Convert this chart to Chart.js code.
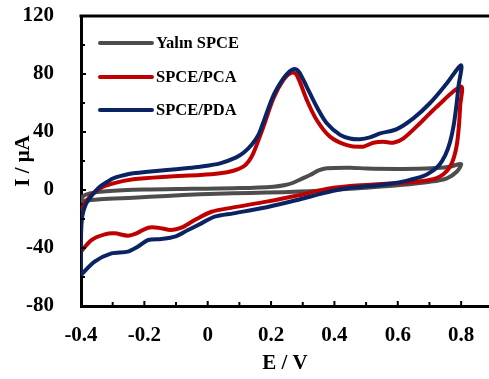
<!DOCTYPE html>
<html>
<head>
<meta charset="utf-8">
<script src="https://cdn.jsdelivr.net/npm/chart.js@4.4.1/dist/chart.umd.min.js"></script>
<style>
  html, body { margin: 0; padding: 0; background: #fff; }
  #wrap { width: 489px; height: 379px; }
</style>
</head>
<body>
<div id="wrap"><canvas id="c" width="489" height="379"></canvas></div>
<script>
// ---- Data (E in V, I in µA), each series is one closed CV loop ----
const seriesLabels = ["Yalın SPCE", "SPCE/PCA", "SPCE/PDA"];
const seriesColors = ["#4d4d4d", "#c00000", "#0a2463"];

const bareE = [-0.4, -0.395, -0.372, -0.32, -0.2, -0.05, 0.1, 0.207, 0.245, 0.27, 0.3, 0.323, 0.35, 0.376, 0.449, 0.502, 0.6, 0.66, 0.72, 0.765, 0.8,
               0.786, 0.755, 0.702, 0.607, 0.502, 0.397, 0.291, 0.186, 0.081, -0.024, -0.13, -0.235, -0.34, -0.4];
const bareI = [-7.6, -4.5, -2.3, -0.8, 0.3, 0.8, 1.3, 2.3, 3.5, 5, 8, 10.3, 13.5, 15, 15.4, 14.8, 14.5, 14.6, 15.2, 16.1, 17.9,
               12.6, 8.1, 5.7, 3.4, 1.6, 0, -1.1, -1.8, -2.3, -3, -4.1, -5.3, -6.4, -7.6];

const pcaE = [-0.4, -0.4, -0.393, -0.372, -0.34, -0.298, -0.235, -0.129, -0.024, 0.039, 0.081, 0.1125, 0.13, 0.144, 0.176, 0.207, 0.239, 0.265, 0.281, 0.313, 0.344, 0.386, 0.439, 0.491, 0.523, 0.555, 0.586, 0.618, 0.67, 0.723, 0.8,
              0.797, 0.793, 0.787, 0.778, 0.765, 0.745, 0.72, 0.68, 0.63, 0.576, 0.523, 0.45, 0.397, 0.344, 0.292, 0.186, 0.081, 0.012, -0.041, -0.083, -0.115, -0.157, -0.188, -0.225, -0.252, -0.294, -0.325, -0.367, -0.4];
const pcaI = [-42.5, -20, -11.5, -4.6, 1.1, 4.6, 7.4, 9.2, 10.3, 11.5, 13.3, 16.1, 20, 25.3, 43.7, 63, 75.9, 81, 79.3, 62, 48.3, 36.8, 31, 29.9, 32.6, 33.3, 32.6, 35.6, 46, 57.4, 71.3,
              58, 44, 32, 23, 16, 11, 8, 6.2, 5.2, 4.5, 3.8, 2.8, 1.5, -0.8, -3.4, -8, -12, -15, -20.7, -26, -27.6, -26, -26, -29.9, -31.5, -29.9, -30.6, -34.5, -42.5];

const pdaE = [-0.4, -0.4, -0.396, -0.385, -0.372, -0.355, -0.34, -0.318, -0.298, -0.265, -0.235, -0.18, -0.129, -0.07, -0.024, 0.039, 0.09, 0.115, 0.14, 0.16, 0.176, 0.207, 0.239, 0.26, 0.273, 0.288, 0.313, 0.344, 0.376, 0.418, 0.449, 0.481, 0.512, 0.544, 0.597, 0.649, 0.702, 0.755, 0.8,
              0.792, 0.785, 0.776, 0.765, 0.75, 0.73, 0.705, 0.68, 0.63, 0.576, 0.523, 0.45, 0.397, 0.344, 0.292, 0.186, 0.081, 0.022, -0.02, -0.062, -0.104, -0.146, -0.188, -0.22, -0.252, -0.304, -0.357, -0.4];
const pdaI = [-58.6, -32, -18, -10, -5.5, -1, 2.3, 5.5, 8.1, 10.2, 11.5, 12.8, 13.8, 15, 16.1, 18.4, 22.5, 26, 31.5, 38, 47, 65, 77, 82, 83.5, 81.5, 71, 57.4, 46, 38, 35.5, 35, 36.3, 39, 42, 49.4, 60, 73.6, 86,
              72, 58, 44, 33, 24, 17, 12.5, 9.5, 6.5, 4.3, 3, 1.5, -0.5, -3.4, -6.4, -11.9, -16.1, -18.4, -23, -27.6, -32.2, -33.8, -34.5, -39, -42.5, -43.7, -49.4, -58.6];

const xTicks = [-0.4, -0.2, 0, 0.2, 0.4, 0.6, 0.8];
const xMinorTicks = [-0.3, -0.1, 0.1, 0.3, 0.5, 0.7];
const yTicks = [-80, -40, 0, 40, 80, 120];
const yMinorTicks = [-60, -20, 20, 60, 100];

const toPts = (xs, ys) => xs.map((x, i) => ({ x: x, y: ys[i] }));
const seriesE = [bareE, pcaE, pdaE];
const seriesI = [bareI, pcaI, pdaI];

Chart.defaults.font.family = "'Liberation Serif', 'Times New Roman', serif";
Chart.defaults.font.weight = 'bold';
Chart.defaults.color = '#000';

const datasets = seriesLabels.map((lab, k) => ({
  label: lab,
  data: toPts(seriesE[k], seriesI[k]),
  showLine: true,
  borderColor: seriesColors[k],
  backgroundColor: seriesColors[k],
  borderWidth: 4,
  pointRadius: 0,
  tension: 0.3,
  fill: false,
  order: 3 - k
}));

const extras = {
  id: 'extras',
  afterDraw(chart) {
    const ctx = chart.ctx;
    const xs = chart.scales.x, ys = chart.scales.y;
    const a = chart.chartArea;
    ctx.save();
    ctx.strokeStyle = '#000';
    // top frame line
    ctx.lineWidth = 3;
    ctx.beginPath();
    ctx.moveTo(a.left - 1.5, a.top);
    ctx.lineTo(chart.width, a.top);
    ctx.stroke();
    // inward ticks
    ctx.lineWidth = 2;
    const xb = ys.bottom;
    xTicks.forEach(v => { const p = xs.getPixelForValue(v); ctx.beginPath(); ctx.moveTo(p, xb); ctx.lineTo(p, xb - 5); ctx.stroke(); });
    xMinorTicks.forEach(v => { const p = xs.getPixelForValue(v); ctx.beginPath(); ctx.moveTo(p, xb); ctx.lineTo(p, xb - 4); ctx.stroke(); });
    const yl = a.left;
    yTicks.forEach(v => { const p = ys.getPixelForValue(v); ctx.beginPath(); ctx.moveTo(yl, p); ctx.lineTo(yl + 5, p); ctx.stroke(); });
    yMinorTicks.forEach(v => { const p = ys.getPixelForValue(v); ctx.beginPath(); ctx.moveTo(yl, p); ctx.lineTo(yl + 4, p); ctx.stroke(); });
    // legend inside plot
    const lx0 = 100, lx1 = 152, ly = [43, 77, 110];
    ctx.font = "bold 16.5px 'Liberation Serif', 'Times New Roman', serif";
    ctx.textBaseline = 'middle';
    ctx.textAlign = 'left';
    chart.data.datasets.forEach((ds, k) => {
      ctx.strokeStyle = ds.borderColor;
      ctx.lineWidth = 4;
      ctx.lineCap = 'round';
      ctx.beginPath(); ctx.moveTo(lx0, ly[k]); ctx.lineTo(lx1, ly[k]); ctx.stroke();
      ctx.fillStyle = '#000';
      ctx.fillText(ds.label, 156, ly[k] + 1);
    });
    ctx.restore();
  }
};

new Chart(document.getElementById('c'), {
  type: 'scatter',
  data: { datasets },
  options: {
    responsive: false,
    animation: false,
    layout: { padding: { top: 16, right: 0, bottom: 0, left: 0 } },
    plugins: { legend: { display: false }, tooltip: { enabled: false } },
    scales: {
      x: {
        type: 'linear',
        min: -0.4,
        max: 0.888,
        afterBuildTicks: s => { s.ticks = xTicks.map(v => ({ value: v })); },
        afterFit: s => { s.height = 73; s.paddingLeft = 0; s.paddingRight = 0; },
        grid: { display: false },
        border: { display: true, color: '#000', width: 3 },
        ticks: { padding: 9, font: { size: 21, weight: 'bold' }, callback: v => String(v) },
        title: { display: true, text: 'E / V', font: { size: 21, weight: 'bold' }, padding: { top: 0, bottom: 3 } }
      },
      y: {
        type: 'linear',
        min: -80,
        max: 120,
        afterBuildTicks: s => { s.ticks = yTicks.map(v => ({ value: v })); },
        afterFit: s => { s.width = 81; s.paddingTop = 0; s.paddingBottom = 0; },
        grid: { display: false },
        border: { display: true, color: '#000', width: 3 },
        ticks: { padding: 19, font: { size: 21, weight: 'bold' } },
        title: { display: true, text: 'I / μA', font: { size: 21, weight: 'bold' }, padding: { top: 11, bottom: 0 } }
      }
    }
  },
  plugins: [extras]
});
</script>
</body>
</html>
